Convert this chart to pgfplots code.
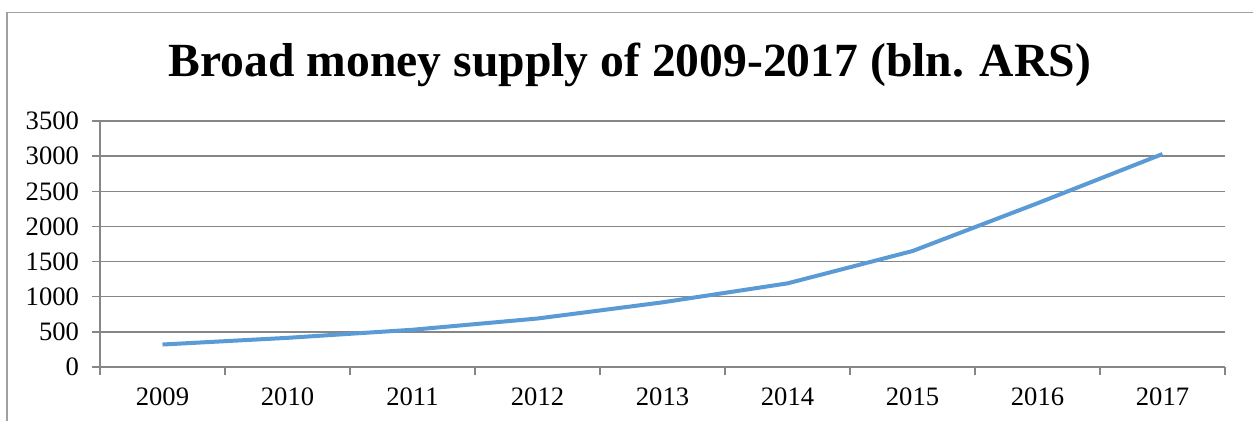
\documentclass[border=0pt]{standalone}
\usepackage{pgfplots}
\pgfplotsset{compat=1.18}
\usepackage{fontspec}
\setmainfont{Liberation Serif}
\definecolor{gridc}{RGB}{134,134,134}
\definecolor{framec}{RGB}{160,160,160}
\definecolor{linec}{RGB}{91,155,213}
\begin{document}
\begin{tikzpicture}
\useasboundingbox (0,0) rectangle (626.5pt,210pt);
\fill[white] (0,0) rectangle (626.5pt,210pt);
\draw[framec, line width=0.8pt] (3.5pt,-20pt) -- (3.5pt,203.75pt) -- (700pt,203.75pt);
\node[anchor=base, font=\bfseries\fontsize{23.8}{28}\selectfont] at (315pt,172pt) {Broad money supply of 2009-2017 (bln. ARS)};
\begin{axis}[
  at={(50pt,26.5pt)}, anchor=south west,
  scale only axis, width=562.5pt, height=123pt,
  xmin=0.5, xmax=9.5, ymin=0, ymax=3500,
  xtick={0.5,1.5,...,9.5},
  x tick label as interval,
  xticklabels={2009,2010,2011,2012,2013,2014,2015,2016,2017},
  ytick={0,500,...,3500},
  axis x line*=bottom, axis y line*=left,
  axis line style={gridc, line width=0.75pt, -},
  tick style={gridc, line width=0.75pt},
  tick align=outside, major tick length=4pt,
  ymajorgrids, grid style={gridc, line width=0.75pt},
  tick label style={font=\fontsize{13.3}{15}\selectfont},
  /pgf/number format/assume math mode=true,
  /pgf/number format/.cd, set thousands separator={}, /pgfplots/.cd,
  yticklabel style={xshift=-3pt},
  xticklabel style={yshift=-3pt},
]
\addplot[linec, line width=2pt, line join=round, no marks] coordinates {
(1,320) (2,415) (3,530) (4,690) (5,920) (6,1190) (7,1650) (8,2330) (9,3030)
};
\end{axis}
\end{tikzpicture}
\end{document}
